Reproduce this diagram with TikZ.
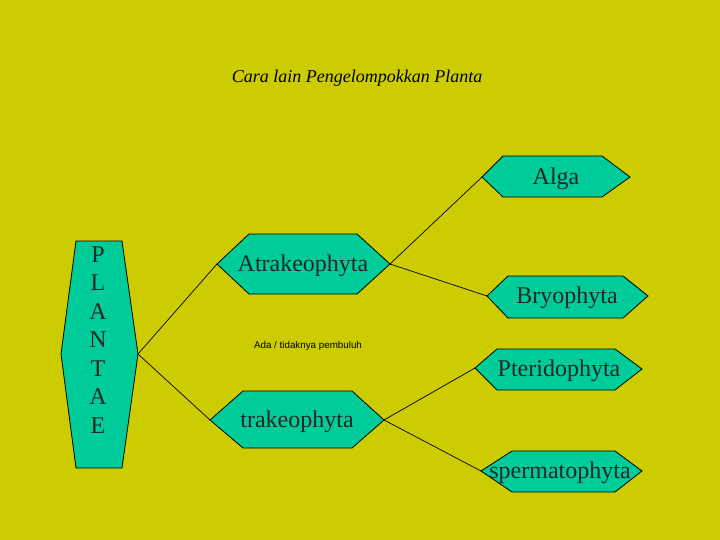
\documentclass[tikz,border=0pt]{standalone}
\usepackage{fontspec}
\setmainfont{Liberation Serif}
\newfontfamily\sansf{Liberation Sans}
\definecolor{bgc}{RGB}{204,204,0}
\definecolor{hexc}{RGB}{0,204,153}
\begin{document}
\begin{tikzpicture}[x=1pt,y=-1pt,
  hex/.style={draw=black,fill=hexc,line width=0.8pt,line join=miter},
  conn/.style={draw=black,line width=0.7pt},
  lbl/.style={inner sep=0pt,font=\fontsize{24}{28}\selectfont,text=black!85}]
\fill[bgc] (0,0) rectangle (720,540);
\useasboundingbox (0,0) rectangle (720,540);

% title
\node[inner sep=0pt] (title) at (357,78) {\fontsize{18}{20}\selectfont\itshape Cara lain Pengelompokkan Planta};

% PLANTAE
\draw[hex] (61,354) coordinate (pl-w) -- (76,241) -- (122,241) -- (138,354) coordinate (pl-e) -- (122,468) -- (76,468) -- cycle;
\node[lbl,align=center,font=\fontsize{24}{28.5}\selectfont] (plantae) at (98,340) {P\\L\\A\\N\\T\\A\\E};

% Alga
\draw[hex] (482,177) coordinate (al-w) -- (503,156) -- (602,156) -- (630,177) -- (602,197) -- (503,197) -- cycle;
\node[lbl] (alga) at (556,179) {Alga};

% Atrakeophyta
\draw[hex] (217,264) coordinate (at-w) -- (249,234) -- (357,234) -- (390,264) coordinate (at-e) -- (357,294) -- (249,294) -- cycle;
\node[lbl] (atra) at (303,266) {Atrakeophyta};

% Bryophyta
\draw[hex] (487,296) coordinate (br-w) -- (508,276) -- (623,276) -- (648,296) -- (623,318) -- (508,318) -- cycle;
\node[lbl] (bryo) at (567,298) {Bryophyta};

% Pteridophyta
\draw[hex] (475,368) coordinate (pt-w) -- (497,349) -- (615,349) -- (642,369) -- (615,390) -- (497,390) -- cycle;
\node[lbl] (pteri) at (559,371) {Pteridophyta};

% trakeophyta
\draw[hex] (210,420) coordinate (tr-w) -- (243,391) -- (352,391) -- (384,420) coordinate (tr-e) -- (352,448) -- (243,448) -- cycle;
\node[lbl] (trak) at (297,422) {trakeophyta};

% spermatophyta
\draw[hex] (481,471) coordinate (sp-w) -- (512,451) -- (615,451) -- (642,471) -- (615,492) -- (512,492) -- cycle;
\node[lbl] (sperm) at (560,473) {spermatophyta};

% note
\node[inner sep=0pt] (note) at (308,346) {\sansf\fontsize{9.8}{11}\selectfont Ada / tidaknya pembuluh};

% connectors
\draw[conn] (pl-e) -- (at-w);
\draw[conn] (pl-e) -- (tr-w);
\draw[conn] (at-e) -- (al-w);
\draw[conn] (at-e) -- (br-w);
\draw[conn] (tr-e) -- (pt-w);
\draw[conn] (tr-e) -- (sp-w);
\end{tikzpicture}
\end{document}
